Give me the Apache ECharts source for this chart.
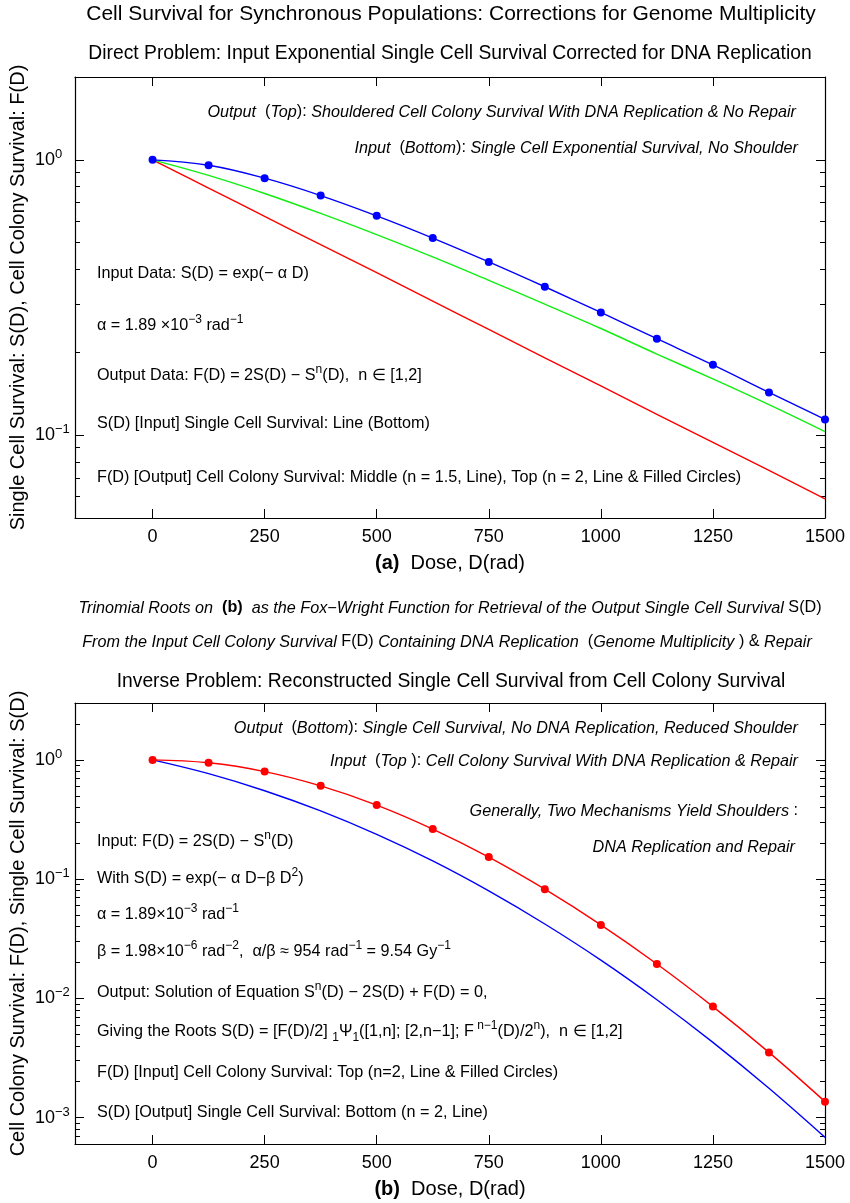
<!DOCTYPE html>
<html>
<head>
<meta charset="utf-8">
<script src="https://cdn.jsdelivr.net/npm/echarts@6/dist/echarts.min.js"></script>
<style>
  html, body { margin: 0; padding: 0; background: #fff; }
  #chart { width: 850px; height: 1203px; }
</style>
</head>
<body>
<div id="chart"></div>
<script>
var FONT = '"Liberation Sans", Arial, sans-serif'

// dose values (rad) where points were read
var dose = [0, 125, 250, 375, 500, 625, 750, 875, 1000, 1125, 1250, 1375, 1500]

// (a) direct problem
var singleA = [1, 0.790, 0.623, 0.492, 0.389, 0.307, 0.242, 0.191, 0.151, 0.119, 0.0942, 0.0744, 0.0587]
var colonyA15 = [1, 0.878, 0.755, 0.639, 0.535, 0.444, 0.365, 0.299, 0.244, 0.197, 0.160, 0.129, 0.103]
var colonyA2 = [1, 0.956, 0.858, 0.742, 0.626, 0.520, 0.426, 0.346, 0.279, 0.224, 0.180, 0.143, 0.114]

// (b) inverse problem
var colonyB = [1, 0.945, 0.798, 0.606, 0.418, 0.263, 0.153, 0.0823, 0.0413, 0.0194, 0.00852, 0.00352, 0.00136]
var singleB = [1, 0.766, 0.551, 0.373, 0.237, 0.142, 0.0796, 0.0420, 0.0209, 0.00973, 0.00427, 0.00176, 0.000682]

// ticks
var doseTicks = [0, 250, 500, 750, 1000, 1250, 1500]
var majorA = [0.1, 1]
var minorA = [0.06, 0.07, 0.08, 0.09, 0.2, 0.3, 0.4, 0.5, 0.6, 0.7, 0.8, 0.9]
var majorB = [0.001, 0.01, 0.1, 1]
var minorB = [0.0007, 0.0008, 0.0009,
  0.002, 0.003, 0.004, 0.005, 0.006, 0.007, 0.008, 0.009,
  0.02, 0.03, 0.04, 0.05, 0.06, 0.07, 0.08, 0.09,
  0.2, 0.3, 0.4, 0.5, 0.6, 0.7, 0.8, 0.9, 2]

function pairs (ys) {
  return dose.map(function (d, i) { return [d, ys[i]] })
}

function rich (size) {
  var small = Math.round(size * 0.72)
  var base = { fontFamily: FONT, fontSize: size, color: '#000', lineHeight: Math.round(size * 1.5), verticalAlign: 'middle' }
  return {
    n: base,
    i: Object.assign({}, base, { fontStyle: 'italic' }),
    b: Object.assign({}, base, { fontWeight: 'bold' }),
    p: Object.assign({}, base, { fontSize: small, lineHeight: small + 2, verticalAlign: 'top' }),
    q: Object.assign({}, base, { fontSize: small, lineHeight: small + 2, verticalAlign: 'bottom' })
  }
}

function txt (x, y, text, align, size) {
  size = size || 16.2
  return {
    type: 'text', x: x, y: y, silent: true,
    style: { text: text, align: align || 'left', verticalAlign: 'middle', fontFamily: FONT, fontSize: size, fill: '#000', rich: rich(size) }
  }
}

function xAxes (gi, name) {
  var line = { onZero: false, lineStyle: { color: '#000', width: 1.2 } }
  var tick = { inside: true, length: 9, customValues: doseTicks, lineStyle: { color: '#000', width: 1 } }
  var nameRich = rich(20)
  nameRich.n.lineHeight = nameRich.b.lineHeight = 22
  return [{
    type: 'value', gridIndex: gi, position: 'bottom', min: -173, max: 1500,
    splitLine: { show: false }, axisLine: line, axisTick: tick,
    axisLabel: {
      customValues: doseTicks, margin: 10, fontSize: 18, color: '#000', fontFamily: FONT,
      formatter: function (v) { return String(v) }
    },
    name: name, nameLocation: 'middle', nameGap: 34, nameMoveOverlap: false,
    nameTextStyle: { rich: nameRich }
  }, {
    type: 'value', gridIndex: gi, position: 'top', min: -173, max: 1500,
    splitLine: { show: false }, axisLine: line, axisTick: tick, axisLabel: { show: false }
  }]
}

function expLabel (v) {
  var e = Math.round(Math.log10(v))
  return '{a|10}{e|' + (e < 0 ? '\u2212' + (-e) : e) + '}'
}

function yAxes (gi, min, max, major, minor, name) {
  function ax (pos, ticks, len, showLine) {
    return {
      type: 'log', logBase: 10, gridIndex: gi, position: pos, min: min, max: max,
      splitLine: { show: false },
      axisLine: { show: showLine, onZero: false, lineStyle: { color: '#000', width: 1.2 } },
      axisTick: { inside: true, length: len, customValues: ticks, lineStyle: { color: '#000', width: 1 } },
      axisLabel: { show: false }
    }
  }
  var left = ax('left', major, 9, true)
  left.axisLabel = {
    customValues: major, margin: 40, align: 'left', formatter: expLabel,
    rich: {
      a: { fontFamily: FONT, fontSize: 18, color: '#000', lineHeight: 24, verticalAlign: 'middle' },
      e: { fontFamily: FONT, fontSize: 13, color: '#000', lineHeight: 13, verticalAlign: 'top' }
    }
  }
  left.name = name
  left.nameLocation = 'middle'
  left.nameGap = 47
  left.nameMoveOverlap = false
  left.nameTextStyle = { fontFamily: FONT, fontSize: 20, color: '#000' }
  return [left, ax('left', minor, 5, false), ax('right', major, 9, true), ax('right', minor, 5, false)]
}

function lineSeries (xi, yi, ys, color, dots) {
  return {
    type: 'line', xAxisIndex: xi, yAxisIndex: yi, data: pairs(ys),
    smooth: 0.4, symbol: dots ? 'circle' : 'none', symbolSize: 8, showAllSymbol: true,
    lineStyle: { color: color, width: 1.4 }, itemStyle: { color: color },
    animation: false, z: dots ? 3 : 2
  }
}

var chart = echarts.init(document.getElementById('chart'))

chart.setOption({
  backgroundColor: '#fff',
  animation: false,
  grid: [
    { left: 75, right: 25, top: 77, bottom: 685, outerBoundsMode: 'none' },
    { left: 75, right: 25, top: 703, bottom: 59, outerBoundsMode: 'none' }
  ],
  xAxis: xAxes(0, '{b|(a)}{n|  Dose, D(rad)}').concat(xAxes(1, '{b|(b)}{n|  Dose, D(rad)}')),
  yAxis: yAxes(0, 0.05, 2, majorA, minorA, 'Single Cell Survival: S(D), Cell Colony Survival: F(D)')
    .concat(yAxes(1, 0.0006, 3, majorB, minorB, 'Cell Colony Survival: F(D), Single Cell Survival: S(D)')),
  series: [
    lineSeries(0, 0, singleA, '#ff0000', false),
    lineSeries(0, 0, colonyA15, '#11ee11', false),
    lineSeries(0, 0, colonyA2, '#0000ff', true),
    lineSeries(2, 4, singleB, '#0000ff', false),
    lineSeries(2, 4, colonyB, '#ff0000', true)
  ],
  graphic: [
    txt(451, 14, '{n|Cell Survival for Synchronous Populations: Corrections for Genome Multiplicity}', 'center', 21),
    txt(450, 54, '{n|Direct Problem: Input Exponential Single Cell Survival Corrected for DNA Replication}', 'center', 19.3),

    txt(796, 112, '{i|Output}{n|  (}{i|Top}{n|): }{i|Shouldered Cell Colony Survival With DNA Replication & No Repair}', 'right'),
    txt(798, 148, '{i|Input}{n|  (}{i|Bottom}{n|): }{i|Single Cell Exponential Survival, No Shoulder}', 'right'),

    txt(97, 274, '{n|Input Data: S(D) = exp(\u2212 \u03b1 D)}'),
    txt(97, 326, '{n|\u03b1 = 1.89 \u00d710}{p|\u22123}{n| rad}{p|\u22121}'),
    txt(97, 376, '{n|Output Data: F(D) = 2S(D) \u2212 S}{p|n}{n|(D),  n \u2208 [1,2]}'),
    txt(97, 424, '{n|S(D) [Input] Single Cell Survival: Line (Bottom)}'),
    txt(97, 478, '{n|F(D) [Output] Cell Colony Survival: Middle (n = 1.5, Line), Top (n = 2, Line & Filled Circles)}'),

    txt(450, 608, '{i|Trinomial Roots on  }{b|(b)}{i|  as the Fox\u2212Wright Function for Retrieval of the Output Single Cell Survival }{n|S(D)}', 'center'),
    txt(447, 642, '{i|From the Input Cell Colony Survival }{n|F(D)}{i| Containing DNA Replication  }{n|(}{i|Genome Multiplicity }{n|) & }{i|Repair}', 'center'),
    txt(451, 682, '{n|Inverse Problem: Reconstructed Single Cell Survival from Cell Colony Survival}', 'center', 19.3),

    txt(798, 728, '{i|Output}{n|  (}{i|Bottom}{n|): }{i|Single Cell Survival, No DNA Replication, Reduced Shoulder}', 'right'),
    txt(798, 761, '{i|Input}{n|  (}{i|Top}{n| ): }{i|Cell Colony Survival With DNA Replication & Repair}', 'right'),
    txt(798, 811, '{i|Generally, Two Mechanisms Yield Shoulders}{n| :}', 'right'),
    txt(795, 847, '{i|DNA Replication and Repair}', 'right'),

    txt(97, 842, '{n|Input: F(D) = 2S(D) \u2212 S}{p|n}{n|(D)}'),
    txt(97, 879, '{n|With S(D) = exp(\u2212 \u03b1 D\u2212\u03b2 D}{p|2}{n|)}'),
    txt(97, 915, '{n|\u03b1 = 1.89\u00d710}{p|\u22123}{n| rad}{p|\u22121}'),
    txt(97, 952, '{n|\u03b2 = 1.98\u00d710}{p|\u22126}{n| rad}{p|\u22122}{n|,  \u03b1/\u03b2 \u2248 954 rad}{p|\u22121}{n| = 9.54 Gy}{p|\u22121}'),
    txt(97, 993, '{n|Output: Solution of Equation S}{p|n}{n|(D) \u2212 2S(D) + F(D) = 0,}'),
    txt(97, 1032, '{n|Giving the Roots S(D) = [F(D)/2] }{q|1}{n|\u03a8}{q|1}{n|([1,n]; [2,n\u22121]; F}{p| n\u22121}{n|(D)/2}{p|n}{n|),  n \u2208 [1,2]}'),
    txt(97, 1073, '{n|F(D) [Input] Cell Colony Survival: Top (n=2, Line & Filled Circles)}'),
    txt(97, 1113, '{n|S(D) [Output] Single Cell Survival: Bottom (n = 2, Line)}')
  ]
})
</script>
</body>
</html>
